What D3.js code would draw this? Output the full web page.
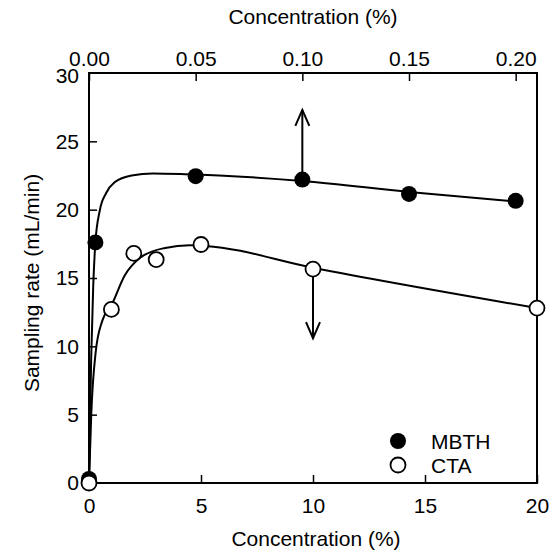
<!DOCTYPE html>
<html>
<head>
<meta charset="utf-8">
<script src="https://cdn.jsdelivr.net/npm/d3@7"></script>
<style>
  body { margin: 0; background: #fff; }
  svg text { font-family: "Liberation Sans", Arial, sans-serif; fill: #000; }
</style>
</head>
<body>
<svg id="chart" width="556" height="551"></svg>
<script>
// MBTH uses the top axis (%), CTA uses the bottom axis (%)
const mbthPoints = [[0, 0.3], [0.003, 17.6], [0.05, 22.45], [0.10, 22.2], [0.15, 21.15], [0.20, 20.65]];
const ctaPoints = [[0, 0], [1, 12.7], [2, 16.8], [3, 16.35], [5, 17.45], [10, 15.65], [20, 12.8]];

// fitted curves
const mbthCurve = [[0, 0], [0.001, 9], [0.002, 14.5], [0.003, 17.6], [0.005, 19.9], [0.008, 21.2],
  [0.012, 22.0], [0.02, 22.5], [0.03, 22.65], [0.045, 22.6], [0.1, 22.1], [0.15, 21.3], [0.2, 20.6]];
const ctaCurve = [[0, 0], [0.1, 5], [0.3, 9.6], [0.6, 11.9], [1.0, 13.0], [1.6, 15.2], [2.3, 16.5],
  [3.4, 17.2], [4.5, 17.4], [5.2, 17.35], [10, 15.75], [20, 12.8]];

// arrows: [x, yFrom, yTo]
const mbthArrow = [0.10, 22.2, 27.3];
const ctaArrow = [10, 15.65, 10.6];

const bottomTicks = [0, 5, 10, 15, 20];
const topTicks = [0, 0.05, 0.10, 0.15, 0.20];
const yTicks = [0, 5, 10, 15, 20, 25, 30];
const legendItems = ["MBTH", "CTA"];

const plotL = 89, plotR = 537, plotT = 73, plotB = 483;
const svg = d3.select("#chart");

const xBottom = d3.scaleLinear().domain([0, 20]).range([plotL, plotR]);
const xTop = d3.scaleLinear().domain([0, 0.21]).range([plotL, plotR]);
const y = d3.scaleLinear().domain([0, 30]).range([plotB, plotT]);

const fontSize = "21px";

const gB = svg.append("g").attr("transform", `translate(0,${plotB})`)
  .call(d3.axisBottom(xBottom).tickValues(bottomTicks).tickSizeInner(-8).tickSizeOuter(0).tickPadding(15));
const gT = svg.append("g").attr("transform", `translate(0,${plotT})`)
  .call(d3.axisTop(xTop).tickValues(topTicks).tickFormat(d3.format(".2f")).tickSizeInner(-8).tickSizeOuter(0).tickPadding(7));
const gL = svg.append("g").attr("transform", `translate(${plotL},0)`)
  .call(d3.axisLeft(y).tickValues(yTicks).tickSizeInner(-8).tickSizeOuter(0).tickPadding(10));

[gB, gT, gL].forEach(g => {
  g.select(".domain").remove();
  g.selectAll("line").attr("stroke", "#000").attr("stroke-width", 1.5);
  g.selectAll("text").style("font-size", fontSize).attr("fill", "#000");
});
gL.selectAll(".tick").filter(d => d === 0 || d === 30).selectAll("line").remove();
gL.selectAll(".tick").filter(d => d === 30).select("text").attr("dy", "0.45em");

svg.append("rect")
  .attr("x", plotL).attr("y", plotT)
  .attr("width", plotR - plotL).attr("height", plotB - plotT)
  .attr("fill", "none").attr("stroke", "#000").attr("stroke-width", 2);

// axis titles
svg.append("text").attr("x", 313).attr("y", 24).attr("text-anchor", "middle")
  .style("font-size", fontSize).text("Concentration (%)");
svg.append("text").attr("x", 316).attr("y", 546).attr("text-anchor", "middle")
  .style("font-size", fontSize).text("Concentration (%)");
svg.append("text").attr("transform", "translate(39,283) rotate(-90)").attr("text-anchor", "middle")
  .style("font-size", fontSize).text("Sampling rate (mL/min)");

// curves
const lineTop = d3.line().x(d => xTop(d[0])).y(d => y(d[1])).curve(d3.curveMonotoneX);
const lineBottom = d3.line().x(d => xBottom(d[0])).y(d => y(d[1])).curve(d3.curveMonotoneX);

svg.append("path").attr("d", lineTop(mbthCurve))
  .attr("fill", "none").attr("stroke", "#000").attr("stroke-width", 2);
svg.append("path").attr("d", lineBottom(ctaCurve))
  .attr("fill", "none").attr("stroke", "#000").attr("stroke-width", 2);

// arrows
function arrow(x, y0, y1) {
  const dir = y1 > y0 ? 1 : -1;
  const tip = y(y1);
  svg.append("line").attr("x1", x).attr("x2", x).attr("y1", y(y0)).attr("y2", tip)
    .attr("stroke", "#000").attr("stroke-width", 2);
  svg.append("path")
    .attr("d", `M${x - 7},${tip + dir * 16}L${x},${tip}L${x + 7},${tip + dir * 16}`)
    .attr("fill", "none").attr("stroke", "#000").attr("stroke-width", 2);
}
arrow(xTop(mbthArrow[0]), mbthArrow[1], mbthArrow[2]);
arrow(xBottom(ctaArrow[0]), ctaArrow[1], ctaArrow[2]);

// markers
svg.append("g").selectAll("circle").data(mbthPoints).join("circle")
  .attr("cx", d => xTop(d[0])).attr("cy", d => y(d[1])).attr("r", 8)
  .attr("fill", "#000");
svg.append("g").selectAll("circle").data(ctaPoints).join("circle")
  .attr("cx", d => xBottom(d[0])).attr("cy", d => y(d[1])).attr("r", 7.5)
  .attr("fill", "#fff").attr("stroke", "#000").attr("stroke-width", 1.8);

// legend
const legend = svg.append("g").selectAll("g").data(legendItems).join("g")
  .attr("transform", (d, i) => `translate(398,${441 + i * 24})`);
legend.append("circle").attr("r", (d, i) => i === 0 ? 8 : 7.5)
  .attr("fill", (d, i) => i === 0 ? "#000" : "#fff")
  .attr("stroke", "#000").attr("stroke-width", (d, i) => i === 0 ? 0 : 1.8);
legend.append("text").attr("x", 33).attr("dy", "0.36em")
  .style("font-size", fontSize).text(d => d);
</script>
</body>
</html>
